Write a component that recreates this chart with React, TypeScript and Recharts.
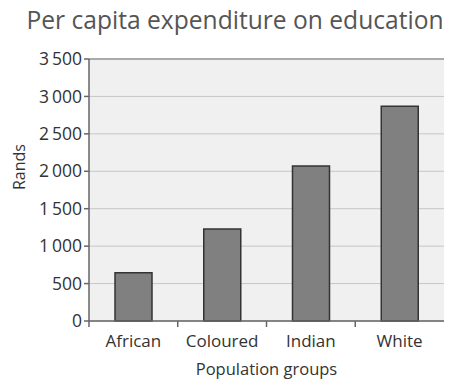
import { BarChart, Bar, XAxis, YAxis, CartesianGrid, ReferenceLine } from "recharts";

// ── data ─────────────────────────────────────────────────────────
const groups = ["African", "Coloured", "Indian", "White"];
const rands = [645, 1230, 2070, 2870];
const yTicks = [0, 500, 1000, 1500, 2000, 2500, 3000, 3500];

const data = groups.map((g, i) => ({ group: g, rands: rands[i] }));

const W = 452;
const H = 381;
const M = { top: 59, right: 8, bottom: 0, left: 0 };
const Y_W = 89;
const X_H = 60;
const band = (W - M.left - M.right - Y_W) / groups.length;

const FONT = "'Open Sans', 'Noto Sans', sans-serif";
const TXT = "#333";
const AXIS = "#666";

const fmt = (v: number) => (v >= 1000 ? `${Math.floor(v / 1000)}\u2009${String(v % 1000).padStart(3, "0")}` : String(v));

// category label + boundary tick on the left side of each band
function CatTick(props: any) {
  const { x, y, payload } = props;
  const axisY = y - 8;
  return (
    <g>
      <line x1={x - band / 2} y1={axisY} x2={x - band / 2} y2={axisY + 6} stroke={AXIS} strokeWidth={1.5} />
      <text x={x} y={y + 18} textAnchor="middle" fontSize={17} fill={TXT} fontFamily={FONT}>
        {payload.value}
      </text>
    </g>
  );
}

export default function App() {
  return (
    <div style={{ position: "absolute", left: 0, top: 0, width: W, height: H, background: "#fff", fontFamily: FONT }}>
      <div style={{ position: "absolute", left: 0, top: 3, width: W, paddingLeft: 18, boxSizing: "border-box", textAlign: "center", fontSize: 24.6, color: "#555", whiteSpace: "nowrap" }}>
        Per capita expenditure on education
      </div>
      <BarChart width={W} height={H} data={data} margin={M} barSize={37}>
        <CartesianGrid vertical={false} stroke="#c6c6c6" fill="#f0f0f0" />
        <ReferenceLine y={3500} stroke="#999" strokeWidth={1.5} />
        <XAxis
          dataKey="group"
          height={X_H}
          axisLine={{ stroke: AXIS, strokeWidth: 1.5 }}
          tickLine={false}
          tick={<CatTick />}
          interval={0}
          label={{ value: "Population groups", position: "insideBottom", offset: 6, fontSize: 16.5, fill: TXT, fontFamily: FONT }}
        />
        <YAxis
          width={Y_W}
          domain={[0, 3500]}
          ticks={yTicks}
          interval={0}
          tickFormatter={fmt}
          tickSize={5}
          tickMargin={2}
          axisLine={{ stroke: AXIS, strokeWidth: 1.5 }}
          tickLine={{ stroke: AXIS, strokeWidth: 1.5 }}
          tick={{ fontSize: 17.5, fill: TXT, fontFamily: FONT }}
          label={{ value: "Rands", angle: -90, position: "insideLeft", offset: 19, fontSize: 16, fill: TXT, fontFamily: FONT }}
        />
        <YAxis yAxisId="r" orientation="right" width={0} tick={false} tickLine={false} axisLine={{ stroke: "#ccc" }} />
        <Bar dataKey="rands" fill="#808080" stroke="#333" strokeWidth={1.5} isAnimationActive={false} />
      </BarChart>
    </div>
  );
}
